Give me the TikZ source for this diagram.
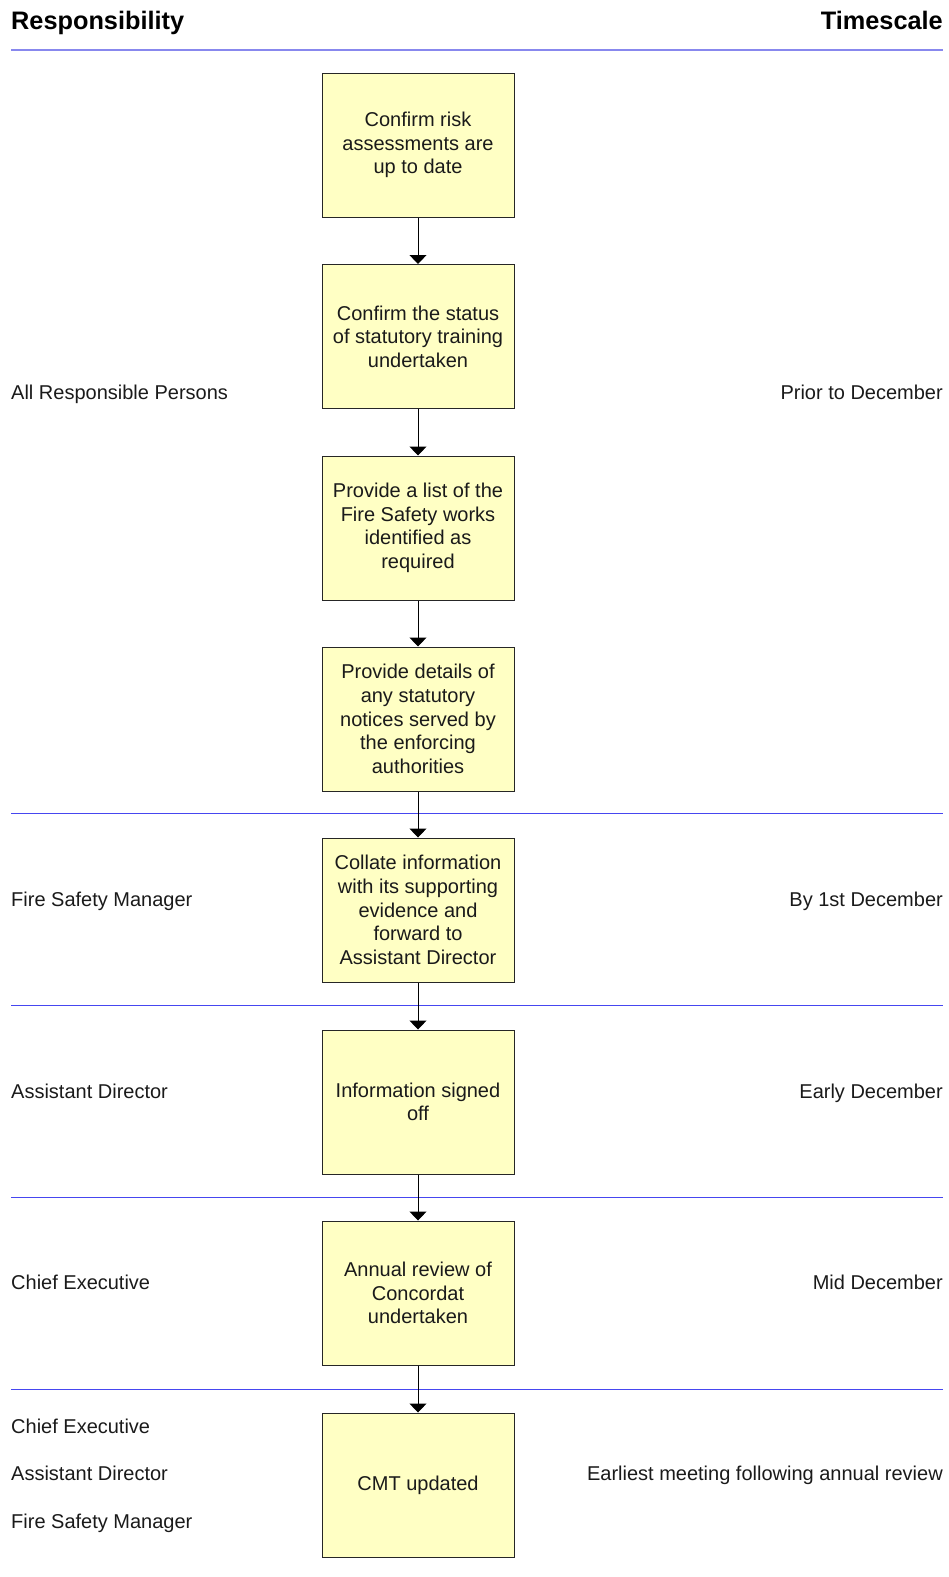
\documentclass[tikz,border=0pt]{standalone}
\usepackage{fontspec}
\setmainfont{Liberation Sans}
\usetikzlibrary{arrows.meta}
\definecolor{boxfill}{RGB}{255,255,196}
\definecolor{txt}{RGB}{26,26,26}
\definecolor{hline}{RGB}{136,136,238}
\definecolor{sepline}{RGB}{70,70,240}
\begin{document}
\begin{tikzpicture}[x=1pt,y=-1pt,
  every node/.style={text=txt,font=\fontsize{20}{23.6}\selectfont},
  stepbox/.style={draw=black!85,line width=1pt,fill=boxfill,minimum width=192pt,minimum height=144pt,align=center,inner sep=2pt},
  lbl/.style={anchor=base west,inner sep=0pt},
  rlbl/.style={anchor=base east,inner sep=0pt},
  conn/.style={line width=1pt,draw=black,-{Triangle[length=9pt,width=17pt]}},
  sep/.style={line width=1pt,draw=sepline}
]
\useasboundingbox (0,0) rectangle (948,1577);
% header
\node[lbl,font=\fontsize{25.3}{28}\selectfont\bfseries,text=black] (hresp) at (11,29.5) {Responsibility};
\node[rlbl,font=\fontsize{25.3}{28}\selectfont\bfseries,text=black] (htime) at (943,29.5) {Timescale};
\draw[line width=2pt,draw=hline] (11,50) -- (943,50);
% separators
\draw[sep] (11,813) -- (943,813);
\draw[sep] (11,1005) -- (943,1005);
\draw[sep] (11,1197) -- (943,1197);
\draw[sep] (11,1389) -- (943,1389);
% boxes
\node[stepbox] (b1) at (418,145) {Confirm risk\\assessments are\\up to date};
\node[stepbox] (b2) at (418,336.5) {Confirm the status\\of statutory training\\undertaken};
\node[stepbox] (b3) at (418,528) {Provide a list of the\\Fire Safety works\\identified as\\required};
\node[stepbox] (b4) at (418,719) {Provide details of\\any statutory\\notices served by\\the enforcing\\authorities};
\node[stepbox] (b5) at (418,910) {Collate information\\with its supporting\\evidence and\\forward to\\Assistant Director};
\node[stepbox] (b6) at (418,1102) {Information signed\\off};
\node[stepbox] (b7) at (418,1293) {Annual review of\\Concordat\\undertaken};
\node[stepbox] (b8) at (418,1485) {CMT updated};
% connectors
\draw[conn] (b1) -- (b2);
\draw[conn] (b2) -- (b3);
\draw[conn] (b3) -- (b4);
\draw[conn] (b4) -- (b5);
\draw[conn] (b5) -- (b6);
\draw[conn] (b6) -- (b7);
\draw[conn] (b7) -- (b8);
% responsibility labels
\node[lbl] (r1) at (11,399.5) {All Responsible Persons};
\node[lbl] (r2) at (11,906.5) {Fire Safety Manager};
\node[lbl] (r3) at (11,1098.5) {Assistant Director};
\node[lbl] (r4) at (11,1289.5) {Chief Executive};
\node[lbl] (r5) at (11,1433) {Chief Executive};
\node[lbl] (r6) at (11,1480.5) {Assistant Director};
\node[lbl] (r7) at (11,1528.5) {Fire Safety Manager};
% timescale labels
\node[rlbl] (t1) at (943,399.5) {Prior to December};
\node[rlbl] (t2) at (943,906.5) {By 1st December};
\node[rlbl] (t3) at (943,1098.5) {Early December};
\node[rlbl] (t4) at (943,1289.5) {Mid December};
\node[rlbl] (t5) at (943,1480.5) {Earliest meeting following annual review};
\end{tikzpicture}
\end{document}
